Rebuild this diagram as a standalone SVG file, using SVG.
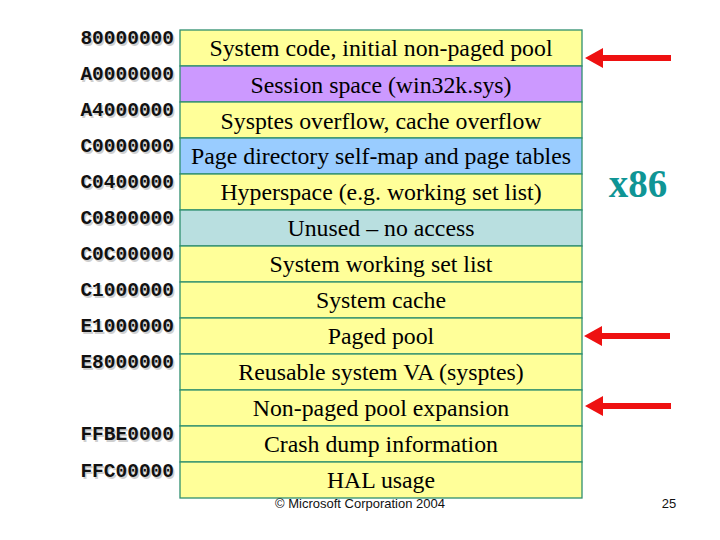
<svg xmlns="http://www.w3.org/2000/svg" width="720" height="540" viewBox="0 0 720 540">
<defs>
<style>
.row{stroke:#2f8f6f;stroke-width:1.3}
.y{fill:#ffff99}.p{fill:#cc99ff}.b{fill:#99ccff}.u{fill:#b9dfe0}
.lbl{font-family:"Liberation Serif","Times New Roman",serif;font-size:23.8px;fill:#000;text-anchor:middle}
.addr{font-family:"Liberation Mono","Courier New",monospace;font-weight:bold;font-size:19.5px;letter-spacing:0px;text-anchor:end;fill:#111}
.sh{fill:#cfcfcf}
.arr{fill:#ee1111}
</style>
</defs>
<rect width="720" height="540" fill="#ffffff"/>
<g id="addresses">
<g id="addr-shadow" class="addr sh" transform="translate(1.5,1.5)">
<text x="174" y="44">80000000</text>
<text x="174" y="80">A0000000</text>
<text x="174" y="116">A4000000</text>
<text x="174" y="152">C0000000</text>
<text x="174" y="188">C0400000</text>
<text x="174" y="224">C0800000</text>
<text x="174" y="260">C0C00000</text>
<text x="174" y="296">C1000000</text>
<text x="174" y="332">E1000000</text>
<text x="174" y="368">E8000000</text>
<text x="174" y="440">FFBE0000</text>
<text x="174" y="477">FFC00000</text>
</g>
<g class="addr">
<text x="174" y="44">80000000</text>
<text x="174" y="80">A0000000</text>
<text x="174" y="116">A4000000</text>
<text x="174" y="152">C0000000</text>
<text x="174" y="188">C0400000</text>
<text x="174" y="224">C0800000</text>
<text x="174" y="260">C0C00000</text>
<text x="174" y="296">C1000000</text>
<text x="174" y="332">E1000000</text>
<text x="174" y="368">E8000000</text>
<text x="174" y="440">FFBE0000</text>
<text x="174" y="477">FFC00000</text>
</g>
</g>
<g id="r1"><rect class="row y" x="180" y="30" width="402" height="36"/><text class="lbl" x="381" y="56">System code, initial non-paged pool</text></g>
<g id="r2"><rect class="row p" x="180" y="66" width="402" height="36"/><text class="lbl" x="381" y="93">Session space (win32k.sys)</text></g>
<g id="r3"><rect class="row y" x="180" y="102" width="402" height="36"/><text class="lbl" x="381" y="129">Sysptes overflow, cache overflow</text></g>
<g id="r4"><rect class="row b" x="180" y="138" width="402" height="36"/><text class="lbl" x="381" y="164">Page directory self-map and page tables</text></g>
<g id="r5"><rect class="row y" x="180" y="174" width="402" height="36"/><text class="lbl" x="381" y="200">Hyperspace (e.g. working set list)</text></g>
<g id="r6"><rect class="row u" x="180" y="210" width="402" height="36"/><text class="lbl" x="381" y="236">Unused – no access</text></g>
<g id="r7"><rect class="row y" x="180" y="246" width="402" height="36"/><text class="lbl" x="381" y="272">System working set list</text></g>
<g id="r8"><rect class="row y" x="180" y="282" width="402" height="36"/><text class="lbl" x="381" y="308">System cache</text></g>
<g id="r9"><rect class="row y" x="180" y="318" width="402" height="36"/><text class="lbl" x="381" y="344">Paged pool</text></g>
<g id="r10"><rect class="row y" x="180" y="354" width="402" height="36"/><text class="lbl" x="381" y="380">Reusable system VA (sysptes)</text></g>
<g id="r11"><rect class="row y" x="180" y="390" width="402" height="36"/><text class="lbl" x="381" y="416">Non-paged pool expansion</text></g>
<g id="r12"><rect class="row y" x="180" y="426" width="402" height="36"/><text class="lbl" x="381" y="452">Crash dump information</text></g>
<g id="r13"><rect class="row y" x="180" y="462" width="402" height="36"/><text class="lbl" x="381" y="488">HAL usage</text></g>
<g id="connectors">
<path class="arr" d="M585,58 L603,48 L603,55 L671,55 L671,61 L603,61 L603,68 Z"/>
<path class="arr" d="M584,336 L602,326 L602,333 L670,333 L670,339 L602,339 L602,346 Z"/>
<path class="arr" d="M585,406 L603,396 L603,403 L671,403 L671,409 L603,409 L603,416 Z"/>
</g>
<text x="638" y="197" font-family="Liberation Serif,'Times New Roman',serif" font-weight="bold" font-size="39" fill="#0f9595" text-anchor="middle">x86</text>
<text x="360" y="508" font-family="Liberation Sans,Arial,sans-serif" font-size="13" fill="#111" text-anchor="middle">© Microsoft Corporation 2004</text>
<text x="669" y="508" font-family="Liberation Sans,Arial,sans-serif" font-size="13" fill="#111" text-anchor="middle">25</text>
</svg>
